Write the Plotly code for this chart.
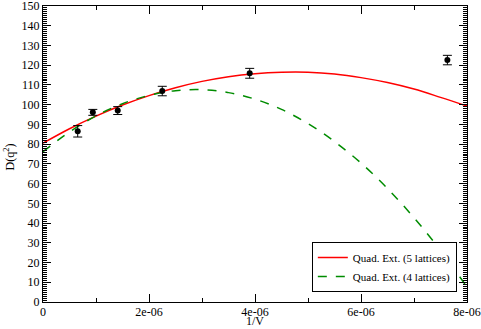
import plotly.graph_objects as go

# measured points (1/V, D(q^2), error)
inv_vol = [0.655e-6, 0.94e-6, 1.41e-6, 2.25e-6, 3.90e-6, 7.63e-6]
d_q2 = [86.5, 96.1, 97.0, 106.9, 115.9, 122.6]
d_err = [2.9, 1.5, 2.0, 2.4, 2.5, 2.4]

# extrapolation curves
curve_x = [0, 0.5e-6, 1e-6, 1.5e-6, 2e-6, 2.5e-6, 3e-6, 3.5e-6, 4e-6,
           4.5e-6, 5e-6, 5.5e-6, 6e-6, 6.5e-6, 7e-6, 7.5e-6, 8e-6]
quad5 = [80.5, 87.8, 94.2, 99.8, 104.6, 108.6, 111.8, 114.2, 115.7,
         116.4, 116.4, 115.5, 113.7, 111.2, 107.9, 103.7, 99.3]
quad4 = [76.2, 86.2, 94.3, 100.5, 104.7, 107.1, 107.6, 106.1, 102.8,
         97.6, 90.4, 81.3, 70.4, 57.5, 42.7, 26.1, 7.6]

x_ticks = [0, 2e-6, 4e-6, 6e-6, 8e-6]
x_labels = ['0', '2e-06', '4e-06', '6e-06', '8e-06']
y_ticks = list(range(0, 151, 10))

serif = 'Liberation Serif'

fig = go.Figure()

fig.add_trace(go.Scatter(
    x=curve_x, y=quad5, mode='lines', name='Quad. Ext. (5 lattices)',
    line=dict(color='#ff0000', width=1.5, shape='spline')
))
fig.add_trace(go.Scatter(
    x=curve_x, y=quad4, mode='lines', name='Quad. Ext. (4 lattices)',
    line=dict(color='#008c00', width=1.5, dash='dash', shape='spline')
))
fig.add_trace(go.Scatter(
    x=inv_vol, y=d_q2, mode='markers', showlegend=False,
    marker=dict(color='black', size=6),
    error_y=dict(type='data', array=d_err, color='black', thickness=1, width=4.5)
))

axis_common = dict(
    showgrid=False, zeroline=False, showline=True, linecolor='black', linewidth=1.3,
    mirror='allticks', ticks='inside', tickcolor='black', tickwidth=1,
    tickfont=dict(family=serif, size=12, color='black'), automargin=False,
    ticklabeloverflow='allow',
)

fig.update_xaxes(
    range=[0, 8e-6], tickvals=x_ticks, ticktext=x_labels, ticklen=8,
    minor=dict(dtick=1e-6, ticklen=4, ticks='inside', tickcolor='black'),
    ticklabelstandoff=-2,
    **axis_common
)
fig.update_yaxes(
    range=[0, 150], tickvals=y_ticks, ticklen=8,
    minor=dict(dtick=1, ticklen=4, ticks='inside', tickcolor='black'),
    **axis_common
)

# axis titles
fig.add_annotation(text='1/V', xref='paper', yref='paper', x=0.5, y=-0.0912,
                   xanchor='center', yanchor='bottom', showarrow=False, borderpad=0,
                   font=dict(family=serif, size=12, color='black'))
fig.add_annotation(text='D(q<sup>2</sup>)', xref='paper', yref='paper', x=-0.079, y=0.49,
                   xanchor='center', yanchor='middle', showarrow=False, textangle=-90,
                   font=dict(family=serif, size=12, color='black'))

fig.update_layout(
    width=481, height=329,
    margin=dict(l=43, r=14, t=6, b=27),
    paper_bgcolor='white', plot_bgcolor='white',
    font=dict(family=serif, size=12, color='black'),
    legend=dict(
        x=0.976, y=0.034, xanchor='right', yanchor='bottom',
        bgcolor='white', bordercolor='black', borderwidth=1,
        font=dict(family=serif, size=11), tracegroupgap=0, itemwidth=30,
    ),
)

# page body has a default 8px margin; drop it so the figure sits at the corner
fig.write_html("out.html", config={'displayModeBar': False},
               post_script="document.body.style.margin='0';")
